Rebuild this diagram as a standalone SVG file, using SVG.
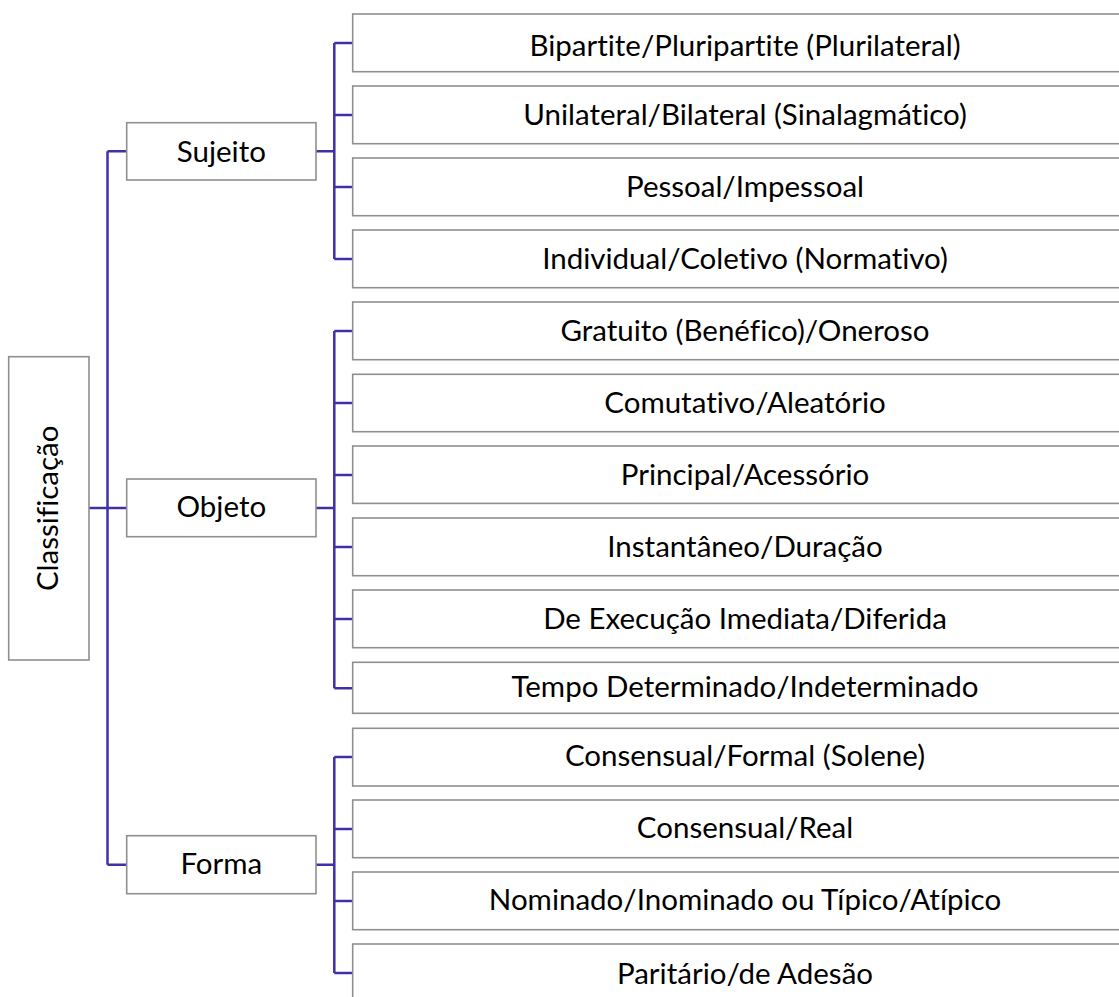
<svg xmlns="http://www.w3.org/2000/svg" width="1119" height="997" viewBox="0 0 1119 997">
<style>
.box{fill:#fff;stroke:#8f8f8f;stroke-width:1.6}
.t{font-family:Lato,"Liberation Sans",sans-serif;font-size:29.5px;fill:#000;text-anchor:middle;font-variant-ligatures:none;font-feature-settings:"liga" 0}
.c{fill:none;stroke:#4030a8;stroke-width:2.5}
</style>
<rect width="1119" height="997" fill="#fff"/>
<g id="connectors">
<path class="c" d="M89,508 H126.7 M107.5,151.3 V864.7 M107.5,151.3 H126.7 M107.5,864.7 H126.7"/>
<path class="c" d="M316,151.3 H334.3 M334.3,43 V259 M334.3,43 H352.7 M334.3,115 H352.7 M334.3,187 H352.7 M334.3,259 H352.7"/>
<path class="c" d="M316,508 H334.3 M334.3,331 V688.3 M334.3,331 H352.7 M334.3,403 H352.7 M334.3,475 H352.7 M334.3,547 H352.7 M334.3,619 H352.7 M334.3,688.3 H352.7"/>
<path class="c" d="M316,864.7 H334.3 M334.3,757 V973 M334.3,757 H352.7 M334.3,829 H352.7 M334.3,901 H352.7 M334.3,973 H352.7"/>
</g>
<g id="classificacao"><rect class="box" x="8.7" y="356.7" width="80.3" height="303.3"/><text class="t" transform="translate(58.3,508.3) rotate(-90)" x="0" y="0">Classificação</text></g>
<g id="sujeito"><rect class="box" x="126.7" y="122.7" width="189.3" height="57.3"/><text class="t" x="221.3" y="161.7">Sujeito</text></g>
<g id="objeto"><rect class="box" x="126.7" y="479" width="189.3" height="57.7"/><text class="t" x="221.3" y="516.7">Objeto</text></g>
<g id="forma"><rect class="box" x="126.7" y="835.7" width="189.3" height="58"/><text class="t" x="221.3" y="873.7">Forma</text></g>
<g id="n1"><rect class="box" x="352.7" y="14" width="785" height="57.7"/><text class="t" x="745" y="56">Bipartite/Pluripartite (Plurilateral)</text></g>
<g id="n2"><rect class="box" x="352.7" y="86" width="785" height="57.7"/><text class="t" x="745" y="125">Unilateral/Bilateral (Sinalagmático)</text></g>
<g id="n3"><rect class="box" x="352.7" y="158" width="785" height="57.7"/><text class="t" x="745" y="196.7">Pessoal/Impessoal</text></g>
<g id="n4"><rect class="box" x="352.7" y="230" width="785" height="57.7"/><text class="t" x="745" y="269">Individual/Coletivo (Normativo)</text></g>
<g id="n5"><rect class="box" x="352.7" y="302" width="785" height="57.7"/><text class="t" x="745" y="340.7">Gratuito (Benéfico)/Oneroso</text></g>
<g id="n6"><rect class="box" x="352.7" y="374.3" width="785" height="57.4"/><text class="t" x="745" y="413.3">Comutativo/Aleatório</text></g>
<g id="n7"><rect class="box" x="352.7" y="446" width="785" height="57.4"/><text class="t" x="745" y="485">Principal/Acessório</text></g>
<g id="n8"><rect class="box" x="352.7" y="518" width="785" height="57.7"/><text class="t" x="745" y="556.7">Instantâneo/Duração</text></g>
<g id="n9"><rect class="box" x="352.7" y="590" width="785" height="57.7"/><text class="t" x="745" y="628.7">De Execução Imediata/Diferida</text></g>
<g id="n10"><rect class="box" x="352.7" y="662.3" width="785" height="51"/><text class="t" x="745" y="696.7">Tempo Determinado/Indeterminado</text></g>
<g id="n11"><rect class="box" x="352.7" y="728.3" width="785" height="57.7"/><text class="t" x="745" y="766">Consensual/Formal (Solene)</text></g>
<g id="n12"><rect class="box" x="352.7" y="800" width="785" height="57.7"/><text class="t" x="745" y="838.3">Consensual/Real</text></g>
<g id="n13"><rect class="box" x="352.7" y="872" width="785" height="57.7"/><text class="t" x="745" y="910">Nominado/Inominado ou Típico/Atípico</text></g>
<g id="n14"><rect class="box" x="352.7" y="944" width="785" height="57.7"/><text class="t" x="745" y="984">Paritário/de Adesão</text></g>
</svg>
